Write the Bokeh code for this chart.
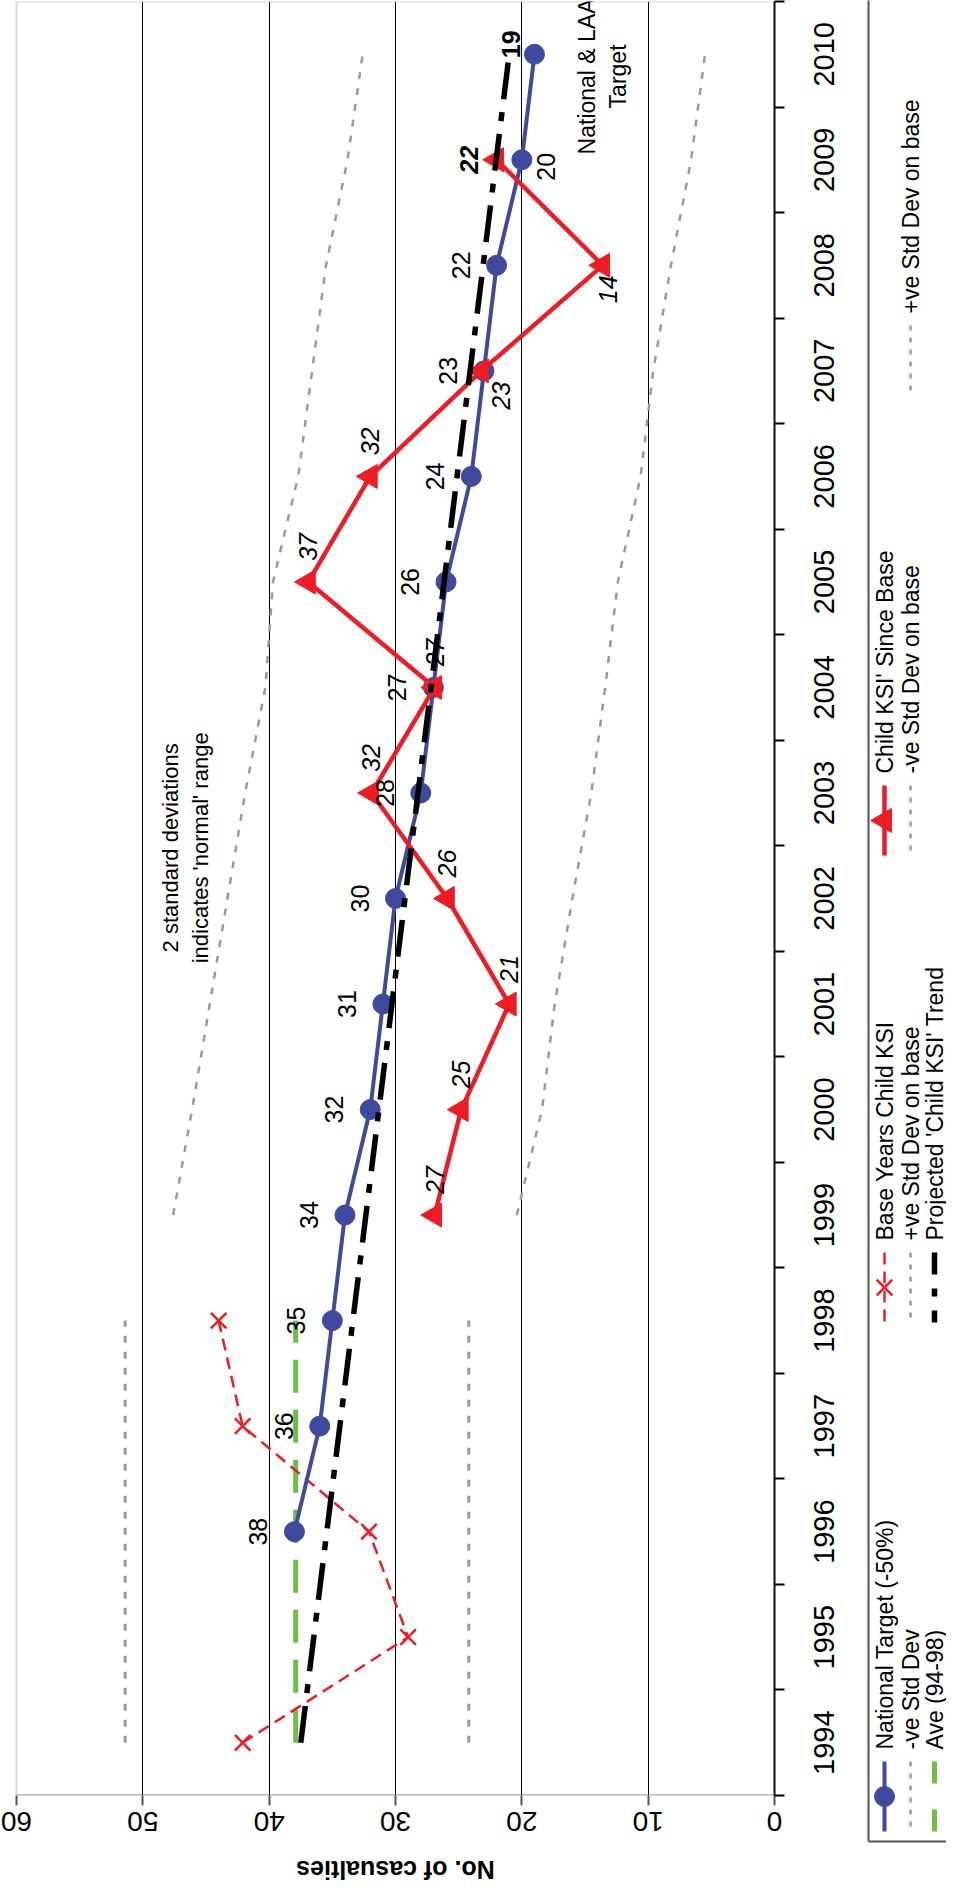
import math
from bokeh.plotting import figure
from bokeh.models import (Range1d, FixedTicker, Label, ColumnDataSource, CustomJSTickFormatter,
                          BoxAnnotation)
from bokeh.layouts import row, column
from bokeh.core.properties import value
from bokeh.embed import file_html
from bokeh.resources import INLINE

FONT = "Liberation Sans"
BLUE = "#3F4A9E"
RED = "#EE1C25"
GREEN = "#6CBE45"
GREY = "#9A9A9A"

# ---------------- data ----------------
years_all = list(range(1994, 2011))

base_years = [1994, 1995, 1996, 1997, 1998]
base_ksi = [42.1, 29.0, 32.1, 42.1, 44.0]

ave_years = [1994, 1998]
ave_vals = [37.9, 37.9]

base_sd_years = [1994, 1998]
base_sd_pos = [51.4, 51.4]
base_sd_neg = [24.2, 24.2]

target_years = list(range(1996, 2011))
target_vals = [38, 36, 35, 34, 32, 31, 30, 28, 27, 26, 24, 23, 22, 20, 19]
target_labels = ["38", "36", "35", "34", "32", "31", "30", "28", "27", "26", "24", "23", "22", "20", "19"]

since_years = list(range(1999, 2010))
since_vals = [26.9, 24.8, 21.0, 25.9, 31.9, 26.9, 36.9, 32.0, 23.2, 13.6, 22.0]
since_labels = ["27", "25", "21", "26", "32", "27", "37", "32", "23", "14", "22"]

onbase_years = list(range(1999, 2011))
onbase_sd_pos = [47.6, 46.1, 44.7, 43.3, 41.9, 40.3, 39.7, 37.7, 36.6, 35.5, 33.8, 32.6]
onbase_sd_neg = [20.4, 18.4, 17.4, 16.0, 14.5, 13.4, 12.4, 10.6, 9.6, 8.2, 6.6, 5.5]

trend_years = [1994, 2010]
trend_vals = [37.5, 21.0]

value_min, value_max = 0, 60
value_ticks = [0, 10, 20, 30, 40, 50, 60]
value_axis_title = "No. of casualties"

legend_entries = [
    "National Target (-50%)", "-ve Std Dev", "Ave (94-98)",
    "Base Years Child KSI", "+ve Std Dev on base", "Projected 'Child KSI' Trend",
    "Child KSI' Since Base", "-ve Std Dev on base", "+ve Std Dev on base",
]

# label offsets (screen px) - layout only
target_dx = [-36] * 13 + [24, -23]
target_dy = [0] * 13 + [7, -10]
since_dx = [0] * 8 + [20, 5, -28]
since_dy = [-35] * 8 + [25, 24, 0]

# ---------------- layout constants ----------------
FIG_W = 858
BORDER_R = 84
PLOT_LEFT_GAP = 16                       # white gap between page edge and the 60 line
FRAME_W = FIG_W - BORDER_R               # frame reaches the figure's left edge
PX_PER_UNIT = (FRAME_W - PLOT_LEFT_GAP) / (value_max - value_min)
FRAME_H = 1794
BORDER_T, BORDER_B = 1, 60
P_H = BORDER_T + FRAME_H + BORDER_B
TITLE_H = 1883 - P_H
TICK_FONT_PX = 28
YEAR_FONT_PX = 29
DIGIT_EM = 0.556

# ---------------- main figure ----------------
p = figure(width=FIG_W, height=P_H,
           x_range=Range1d(value_max + PLOT_LEFT_GAP / PX_PER_UNIT, value_min),
           y_range=Range1d(1993.5, 2010.5),
           y_axis_location="right",
           output_backend="svg", toolbar_location=None,
           min_border_left=0, min_border_right=BORDER_R,
           min_border_top=BORDER_T, min_border_bottom=BORDER_B)
p.background_fill_color = "white"
p.outline_line_color = None

# plot-area border (0..60) and the bottom axis line
p.add_layout(BoxAnnotation(left=value_min, right=value_max, bottom=1993.5, top=2010.5,
                           fill_alpha=0, line_color="#888888", line_width=2))
p.add_layout(BoxAnnotation(left=value_min, right=value_max, bottom=1993.5, top=1993.5,
                           fill_alpha=0, line_color="#555555", line_width=3))

# bottom value axis: labels upside down; Bokeh anchors such labels at one end, so the
# (invisible) major tick carrying each label is nudged by half the label width, while
# the visible tick marks are minor ticks at the true values
value_label_ticks = [v + (len(str(v)) * DIGIT_EM * TICK_FONT_PX / 2) / PX_PER_UNIT for v in value_ticks]
xa = p.xaxis[0]
xa.ticker = FixedTicker(ticks=value_label_ticks, minor_ticks=value_ticks)
xa.formatter = CustomJSTickFormatter(code="return String(Math.round(tick / 10) * 10);")
xa.major_label_orientation = math.pi
xa.major_label_text_font = FONT
xa.major_label_text_font_size = f"{TICK_FONT_PX}px"
xa.major_label_text_color = "black"
xa.major_tick_line_color = None
xa.major_tick_out = 10
xa.major_tick_in = 0
xa.minor_tick_line_color = "#555555"
xa.minor_tick_line_width = 2
xa.minor_tick_out = 10
xa.minor_tick_in = 0
xa.axis_line_color = None
xa.major_label_standoff = 16

# right year axis: labels start at the tick and read upward, so the tick is
# placed half a label length below the year so that the label is centred on it
HALF_LABEL = (4 * DIGIT_EM * YEAR_FONT_PX / 2) / (FRAME_H / 17)
ya = p.yaxis[0]
ya.ticker = FixedTicker(ticks=[y - HALF_LABEL for y in years_all],
                        minor_ticks=[y - 0.5 for y in years_all] + [2010.5])
ya.formatter = CustomJSTickFormatter(code="return String(Math.round(tick));")
ya.major_label_orientation = math.pi / 2
ya.major_label_text_font = FONT
ya.major_label_text_font_size = f"{YEAR_FONT_PX}px"
ya.major_label_text_color = "black"
ya.major_tick_out = 0
ya.major_tick_in = 0
ya.major_tick_line_color = None
ya.minor_tick_out = 10
ya.minor_tick_in = 0
ya.minor_tick_line_color = "black"
ya.minor_tick_line_width = 2
ya.axis_line_color = "black"
ya.axis_line_width = 2
ya.major_label_standoff = 40

p.xgrid.ticker = FixedTicker(ticks=[10, 20, 30, 40, 50])
p.xgrid.grid_line_color = "black"
p.xgrid.grid_line_width = 1
p.ygrid.visible = False

# std dev lines
p.line(x=base_sd_pos, y=base_sd_years, line_color=GREY, line_width=3, line_dash="7 9")
p.line(x=base_sd_neg, y=base_sd_years, line_color=GREY, line_width=3, line_dash="7 9")
p.line(x=onbase_sd_pos, y=onbase_years, line_color=GREY, line_width=2.5, line_dash="7 9")
p.line(x=onbase_sd_neg, y=onbase_years, line_color=GREY, line_width=2.5, line_dash="7 9")

# average
p.line(x=ave_vals, y=ave_years, line_color=GREEN, line_width=5, line_dash="33 17")

# base years
p.line(x=base_ksi, y=base_years, line_color=RED, line_width=2.5, line_dash="12 7")
p.scatter(x=base_ksi, y=base_years, marker="x", size=22, line_color=RED, line_width=2.5)

# national target
p.line(x=target_vals, y=target_years, line_color=BLUE, line_width=4)
p.scatter(x=target_vals, y=target_years, marker="circle", size=20, fill_color=BLUE, line_color=BLUE)

# since base
p.line(x=since_vals, y=since_years, line_color=RED, line_width=4.5)
p.scatter(x=since_vals, y=since_years, marker="triangle", size=24, angle=math.pi / 2,
          fill_color=RED, line_color=RED)

# trend
p.line(x=trend_vals, y=trend_years, line_color="black", line_width=5.5, line_dash="37 13 9 13")

# data labels
src_t = ColumnDataSource(dict(x=target_vals[:-1], y=target_years[:-1], t=target_labels[:-1],
                              dx=target_dx[:-1], dy=target_dy[:-1]))
p.text(x="x", y="y", text="t", x_offset="dx", y_offset="dy", source=src_t, angle=math.pi / 2,
       text_align="center", text_baseline="middle", text_font=value(FONT),
       text_font_size="25px", text_color="black")
src_t2 = ColumnDataSource(dict(x=target_vals[-1:], y=target_years[-1:], t=target_labels[-1:],
                               dx=target_dx[-1:], dy=target_dy[-1:]))
p.text(x="x", y="y", text="t", x_offset="dx", y_offset="dy", source=src_t2, angle=math.pi / 2,
       text_align="center", text_baseline="middle", text_font=value(FONT),
       text_font_size="25px", text_font_style="bold", text_color="black")

src_s = ColumnDataSource(dict(x=since_vals[:-1], y=since_years[:-1], t=since_labels[:-1],
                              dx=since_dx[:-1], dy=since_dy[:-1]))
p.text(x="x", y="y", text="t", x_offset="dx", y_offset="dy", source=src_s, angle=math.pi / 2,
       text_align="center", text_baseline="middle", text_font=value(FONT),
       text_font_size="25px", text_font_style="italic", text_color="black")
src_s2 = ColumnDataSource(dict(x=since_vals[-1:], y=since_years[-1:], t=since_labels[-1:],
                               dx=since_dx[-1:], dy=since_dy[-1:]))
p.text(x="x", y="y", text="t", x_offset="dx", y_offset="dy", source=src_s2, angle=math.pi / 2,
       text_align="center", text_baseline="middle", text_font=value(FONT),
       text_font_size="25px", text_font_style="bold italic", text_color="black")

# annotations
p.add_layout(Label(x=46.6, y=2002.48, text="2 standard deviations\nindicates 'normal' range",
                   angle=math.pi / 2, text_align="center", text_baseline="middle",
                   text_font=FONT, text_font_size="22px", text_color="black"))
p.add_layout(Label(x=13.6, y=2009.79, text="National & LAA\nTarget",
                   angle=math.pi / 2, text_align="center", text_baseline="middle",
                   text_font=FONT, text_font_size="23px", text_color="black"))

# ---------------- value-axis title strip (upside down, as in the rotated source) ----------------
title_fig = figure(width=FIG_W, height=TITLE_H, x_range=p.x_range, y_range=Range1d(0, TITLE_H),
                   x_axis_type=None, y_axis_type=None,
                   output_backend="svg", toolbar_location=None,
                   min_border_left=0, min_border_right=BORDER_R, min_border_top=0, min_border_bottom=0)
title_fig.outline_line_color = None
title_fig.grid.visible = False
title_fig.text(x=[(value_min + value_max) / 2], y=[TITLE_H / 2], text=[value_axis_title], angle=math.pi,
               text_align="center", text_baseline="middle", text_font=value(FONT),
               text_font_size="25px", text_font_style="bold", text_color="black")

# ---------------- legend figure (page pixel coordinates) ----------------
leg = figure(width=88, height=1883, x_range=Range1d(866, 954), y_range=Range1d(1891, 8),
             x_axis_type=None, y_axis_type=None,
             output_backend="svg", toolbar_location=None, min_border=0)
leg.outline_line_color = None
leg.grid.visible = False

leg.line(x=[876, 876], y=[0, 1849], line_color="#555555", line_width=2)
leg.line(x=[876, 960], y=[1849, 1849], line_color="#555555", line_width=2)

col_x = [892, 918, 942, 892, 918, 942, 892, 918, 918]
text_start = [1757, 1757, 1757, 1248, 1248, 1248, 781, 781, 321]
styles = ["blue", "grey", "green", "redx", "grey", "trend", "redtri", "grey", "grey"]

for lab, cx, ts, st in zip(legend_entries, col_x, text_start, styles):
    y0, y1 = ts + 12, ts + 82
    ym = (y0 + y1) / 2
    if st == "blue":
        leg.line(x=[cx, cx], y=[y0, y1], line_color=BLUE, line_width=4)
        leg.scatter(x=[cx], y=[ym], marker="circle", size=20, fill_color=BLUE, line_color=BLUE)
    elif st == "grey":
        leg.line(x=[cx, cx], y=[y0, y1], line_color=GREY, line_width=2.5, line_dash="5 7")
    elif st == "green":
        leg.line(x=[cx, cx], y=[y0, y1], line_color=GREEN, line_width=5, line_dash="22 26")
    elif st == "redx":
        leg.line(x=[cx, cx], y=[y0, y1], line_color=RED, line_width=2.5, line_dash="12 7")
        leg.scatter(x=[cx], y=[ym], marker="x", size=22, line_color=RED, line_width=2.5)
    elif st == "trend":
        leg.line(x=[cx, cx], y=[y0, y1], line_color="black", line_width=5.5, line_dash="22 14 8 14")
    elif st == "redtri":
        leg.line(x=[cx, cx], y=[y0, y1], line_color=RED, line_width=4.5)
        leg.scatter(x=[cx], y=[ym], marker="triangle", size=24, angle=math.pi / 2,
                    fill_color=RED, line_color=RED)
    leg.text(x=[cx], y=[ts], text=[lab], angle=math.pi / 2, text_align="left",
             text_baseline="middle", text_font=value(FONT), text_font_size="23px",
             text_color="black")

layout = row(column(p, title_fig, spacing=0), leg, spacing=0)
open("out.html", "w").write(file_html(layout, INLINE))
